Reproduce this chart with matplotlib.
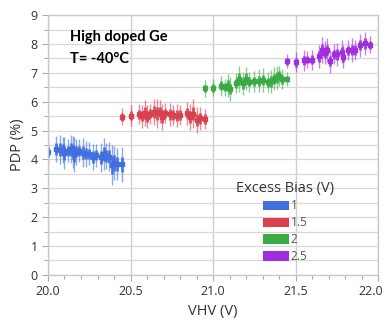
import matplotlib
matplotlib.use("Agg")
import matplotlib.pyplot as plt
from matplotlib.patches import Patch
from matplotlib.ticker import MultipleLocator

# ---- data ----
bias_labels = ["1", "1.5", "2", "2.5"]
colors = ["#3f6fe0", "#d9414f", "#3aaa45", "#a02ee0"]
xtick_values = [20.0, 20.5, 21.0, 21.5, 22.0]
xtick_labels = ["20.0", "20.5", "21.0", "21.5", "22.0"]

blue_x = [20.00, 20.05, 20.07, 20.09, 20.10, 20.12, 20.14, 20.15, 20.16, 20.17, 20.19, 20.21,
          20.23, 20.25, 20.27, 20.29, 20.32, 20.34, 20.35, 20.37, 20.39, 20.40, 20.42, 20.45]
blue_y = [4.25, 4.36, 4.34, 4.32, 4.23, 4.30, 4.36, 4.25, 4.18, 4.27, 4.30, 4.23,
          4.20, 4.19, 4.09, 4.15, 4.07, 4.19, 4.12, 4.09, 3.81, 3.87, 3.85, 3.83]
blue_e = [0.40, 0.45, 0.50, 0.45, 0.55, 0.40, 0.50, 0.55, 0.60, 0.45, 0.40, 0.50,
          0.45, 0.40, 0.45, 0.40, 0.50, 0.55, 0.45, 0.50, 0.70, 0.60, 0.55, 0.60]

red_x = [20.45, 20.50, 20.55, 20.57, 20.59, 20.60, 20.62, 20.64, 20.66, 20.68, 20.69,
         20.71, 20.74, 20.76, 20.78, 20.80, 20.84, 20.86, 20.88, 20.90, 20.92, 20.95]
red_y = [5.48, 5.52, 5.56, 5.50, 5.60, 5.48, 5.58, 5.65, 5.60, 5.65, 5.46,
         5.60, 5.56, 5.54, 5.52, 5.54, 5.60, 5.46, 5.58, 5.36, 5.42, 5.40]
red_e = [0.30, 0.35, 0.35, 0.40, 0.45, 0.40, 0.35, 0.45, 0.50, 0.40, 0.45,
         0.35, 0.40, 0.35, 0.40, 0.35, 0.40, 0.45, 0.50, 0.45, 0.40, 0.35]

green_x = [20.95, 21.00, 21.05, 21.07, 21.09, 21.10, 21.14, 21.16, 21.18, 21.20, 21.22,
           21.25, 21.28, 21.30, 21.33, 21.35, 21.37, 21.39, 21.40, 21.42, 21.45]
green_y = [6.46, 6.48, 6.55, 6.50, 6.56, 6.44, 6.64, 6.78, 6.63, 6.80, 6.69,
           6.70, 6.72, 6.75, 6.68, 6.70, 6.79, 6.84, 6.90, 6.78, 6.78]
green_e = [0.30, 0.30, 0.35, 0.30, 0.40, 0.40, 0.35, 0.45, 0.40, 0.40, 0.35,
           0.35, 0.40, 0.40, 0.35, 0.40, 0.40, 0.40, 0.35, 0.35, 0.25]

purple_x = [21.45, 21.50, 21.55, 21.57, 21.60, 21.64, 21.66, 21.68, 21.69, 21.71,
            21.73, 21.75, 21.78, 21.79, 21.82, 21.84, 21.86, 21.89, 21.92, 21.95]
purple_y = [7.40, 7.37, 7.43, 7.46, 7.45, 7.57, 7.79, 7.70, 7.79, 7.40,
            7.65, 7.64, 7.73, 7.56, 7.78, 7.79, 7.79, 7.96, 8.02, 7.97]
purple_e = [0.25, 0.35, 0.35, 0.30, 0.35, 0.40, 0.45, 0.40, 0.40, 0.40,
            0.35, 0.40, 0.40, 0.40, 0.35, 0.40, 0.35, 0.40, 0.40, 0.30]

series = [(blue_x, blue_y, blue_e), (red_x, red_y, red_e),
          (green_x, green_y, green_e), (purple_x, purple_y, purple_e)]

# ---- figure ----
plt.rcParams['font.family'] = ['Open Sans', 'DejaVu Sans']
fig = plt.figure(figsize=(3.87, 3.28), dpi=100)
ax = fig.add_axes([0.124, 0.162, 0.853, 0.792])

ax.set_xlim(20.0, 22.0)
ax.set_ylim(0, 9)
# last label is drawn separately, shifted left to stay inside the figure
ax.set_xticks(xtick_values, labels=xtick_labels[:-1] + [""])
ax.xaxis.set_minor_locator(MultipleLocator(0.1))
ax.yaxis.set_major_locator(MultipleLocator(1))
ax.yaxis.set_minor_locator(MultipleLocator(0.5))

ax.grid(True, which='major', axis='x', color='#d0d0d0', lw=1.0)
ax.grid(True, which='both', axis='y', color='#d8d8d8', lw=0.9)
ax.set_axisbelow(True)
for s in ax.spines.values():
    s.set_color('#c8c8c8')
    s.set_linewidth(1.0)

tick_len, tick_pad = 4, 3.5
ax.tick_params(axis='both', which='major', labelsize=9, colors='#aaaaaa',
               labelcolor='#333333', length=tick_len, width=0.8, pad=tick_pad)
ax.tick_params(axis='both', which='minor', colors='#aaaaaa', length=3, width=0.8)

ax.annotate(xtick_labels[-1], xy=(xtick_values[-1], 0), xycoords=('data', 'axes fraction'),
            xytext=(-5.0, -(tick_len + tick_pad)), textcoords='offset points',
            ha='center', va='top', fontsize=9, color='#333333', annotation_clip=False)

for (xs, ys, es), c in zip(series, colors):
    inner = [e * 0.45 for e in es]
    ax.errorbar(xs, ys, yerr=es, fmt='none', ecolor=c, elinewidth=1.0, alpha=0.6)
    ax.errorbar(xs, ys, yerr=inner, fmt='none', ecolor=c, elinewidth=2.0, alpha=0.9)
    ax.plot(xs, ys, 's', color=c, markersize=3.2, linestyle='none')

ax.set_xlabel('VHV (V)', fontsize=10.5, color='#333333', labelpad=4)
ax.set_ylabel('PDP (%)', fontsize=10.5, color='#333333', labelpad=4)

ax.text(20.135, 8.24, 'High doped Ge', fontsize=10.5, fontweight='bold',
        family=['Lato', 'DejaVu Sans'], color='black', va='center')
ax.text(20.135, 7.47, 'T= -40°C', fontsize=10.5, fontweight='bold',
        family=['Lato', 'DejaVu Sans'], color='black', va='center')

handles = [Patch(facecolor=c, edgecolor='none') for c in colors]
leg = ax.legend(handles, bias_labels, title='Excess Bias (V)', frameon=False,
                loc='upper left', bbox_to_anchor=(0.545, 0.395), fontsize=8.5,
                title_fontsize=10.5, handlelength=2.2, handleheight=0.85,
                labelspacing=0.33, handletextpad=0.15, borderpad=0.2)
for t in leg.get_texts():
    t.set_color('#555555')
leg.get_title().set_color('#333333')

fig.savefig('out.png', dpi=100)
